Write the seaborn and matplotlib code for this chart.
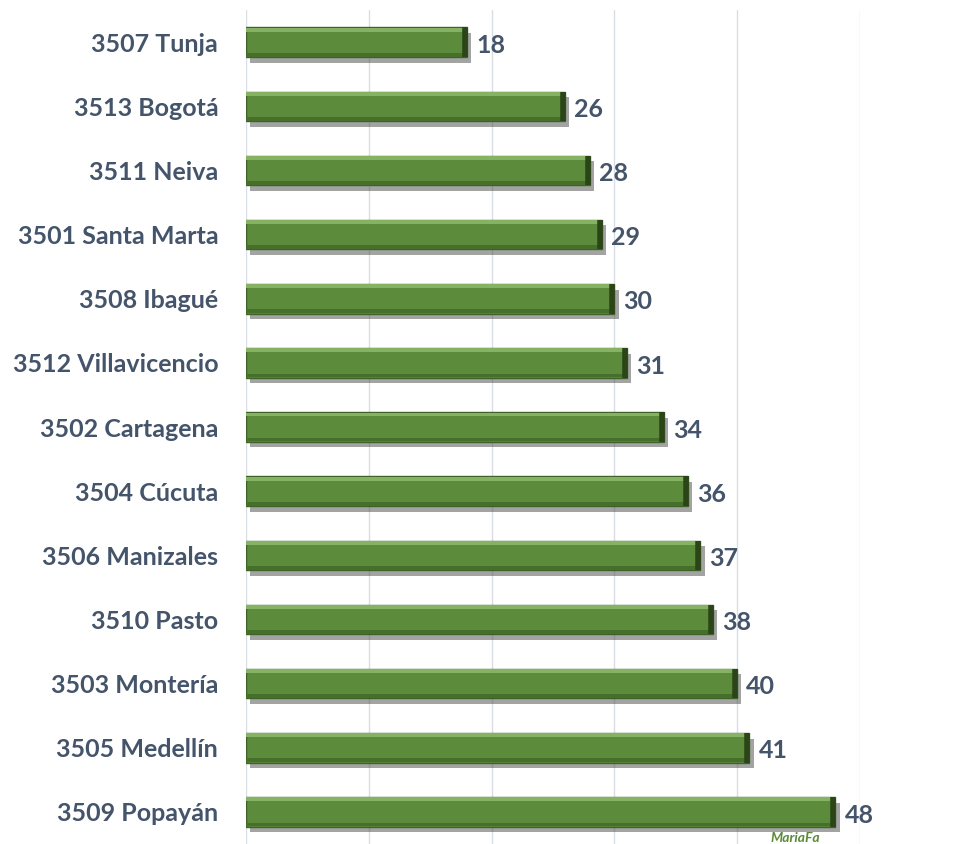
import matplotlib
matplotlib.use("Agg")
import matplotlib.pyplot as plt
import matplotlib.patheffects as pe
import matplotlib.transforms as mtrans
import seaborn as sns

sns.set_theme(style="white")
plt.rcParams["font.family"] = ["Lato", "DejaVu Sans"]

# datos
ciudades = ["3507 Tunja", "3513 Bogotá", "3511 Neiva", "3501 Santa Marta",
            "3508 Ibagué", "3512 Villavicencio", "3502 Cartagena", "3504 Cúcuta",
            "3506 Manizales", "3510 Pasto", "3503 Montería", "3505 Medellín",
            "3509 Popayán"]
valores = [18, 26, 28, 29, 30, 31, 34, 36, 37, 38, 40, 41, 48]

texto = "#44546A"
verde = "#5C8B3B"
alto = 0.46

fig = plt.figure(figsize=(9.71, 8.44), dpi=100)
ax = fig.add_axes([0.2533, 0.0, 0.6324, 0.988])

sns.barplot(x=valores, y=ciudades, orient="h", color=verde, width=alto,
            saturation=1, edgecolor="#3E6227", linewidth=1.0, ax=ax)

# sombra bajo las barras
for p in ax.patches:
    p.set_path_effects([pe.SimplePatchShadow(offset=(3, -4), shadow_rgbFace="#333333", alpha=0.45),
                        pe.Normal()])

pos = list(range(len(valores)))
# bisel: franja clara arriba y oscura abajo
ax.barh([i - alto / 2 + 0.035 for i in pos], valores, height=0.06,
        color="#86B264", linewidth=0)
ax.barh([i + alto / 2 - 0.035 for i in pos], valores, height=0.06,
        color="#466F2C", linewidth=0)
# extremo derecho oscuro
for i, v in zip(pos, valores):
    ax.plot([v, v], [i - alto / 2, i + alto / 2], color="#2B4519", lw=4,
            solid_capstyle="butt",
            transform=ax.transData + mtrans.ScaledTranslation(-2 / 100, 0, fig.dpi_scale_trans))

ax.set_ylim(len(valores) - 0.5, -0.5)
ax.set_xlim(0, 50)
ax.set_xticks([0, 10, 20, 30, 40, 50])
ax.set_xticklabels([])
ax.grid(axis="x", color="#D9DEE6", lw=1)
ax.set_axisbelow(True)
for s in ax.spines.values():
    s.set_visible(False)
ax.tick_params(axis="y", length=0, pad=20)
ax.set_xlabel("")
ax.set_ylabel("")
for lab in ax.get_yticklabels():
    lab.set_fontsize(18)
    lab.set_fontweight("bold")
    lab.set_color(texto)

for i, v in zip(pos, valores):
    ax.text(v + 0.75, i + 0.05, str(v), va="center", ha="left", fontsize=18,
            fontweight="bold", color=texto, clip_on=False)

fig.text(795 / 971, 0.0, "MariaFa", ha="center", va="bottom", fontsize=10,
         fontstyle="italic", fontweight="bold", color="#5B8A38")

fig.savefig("out.png", dpi=100)
